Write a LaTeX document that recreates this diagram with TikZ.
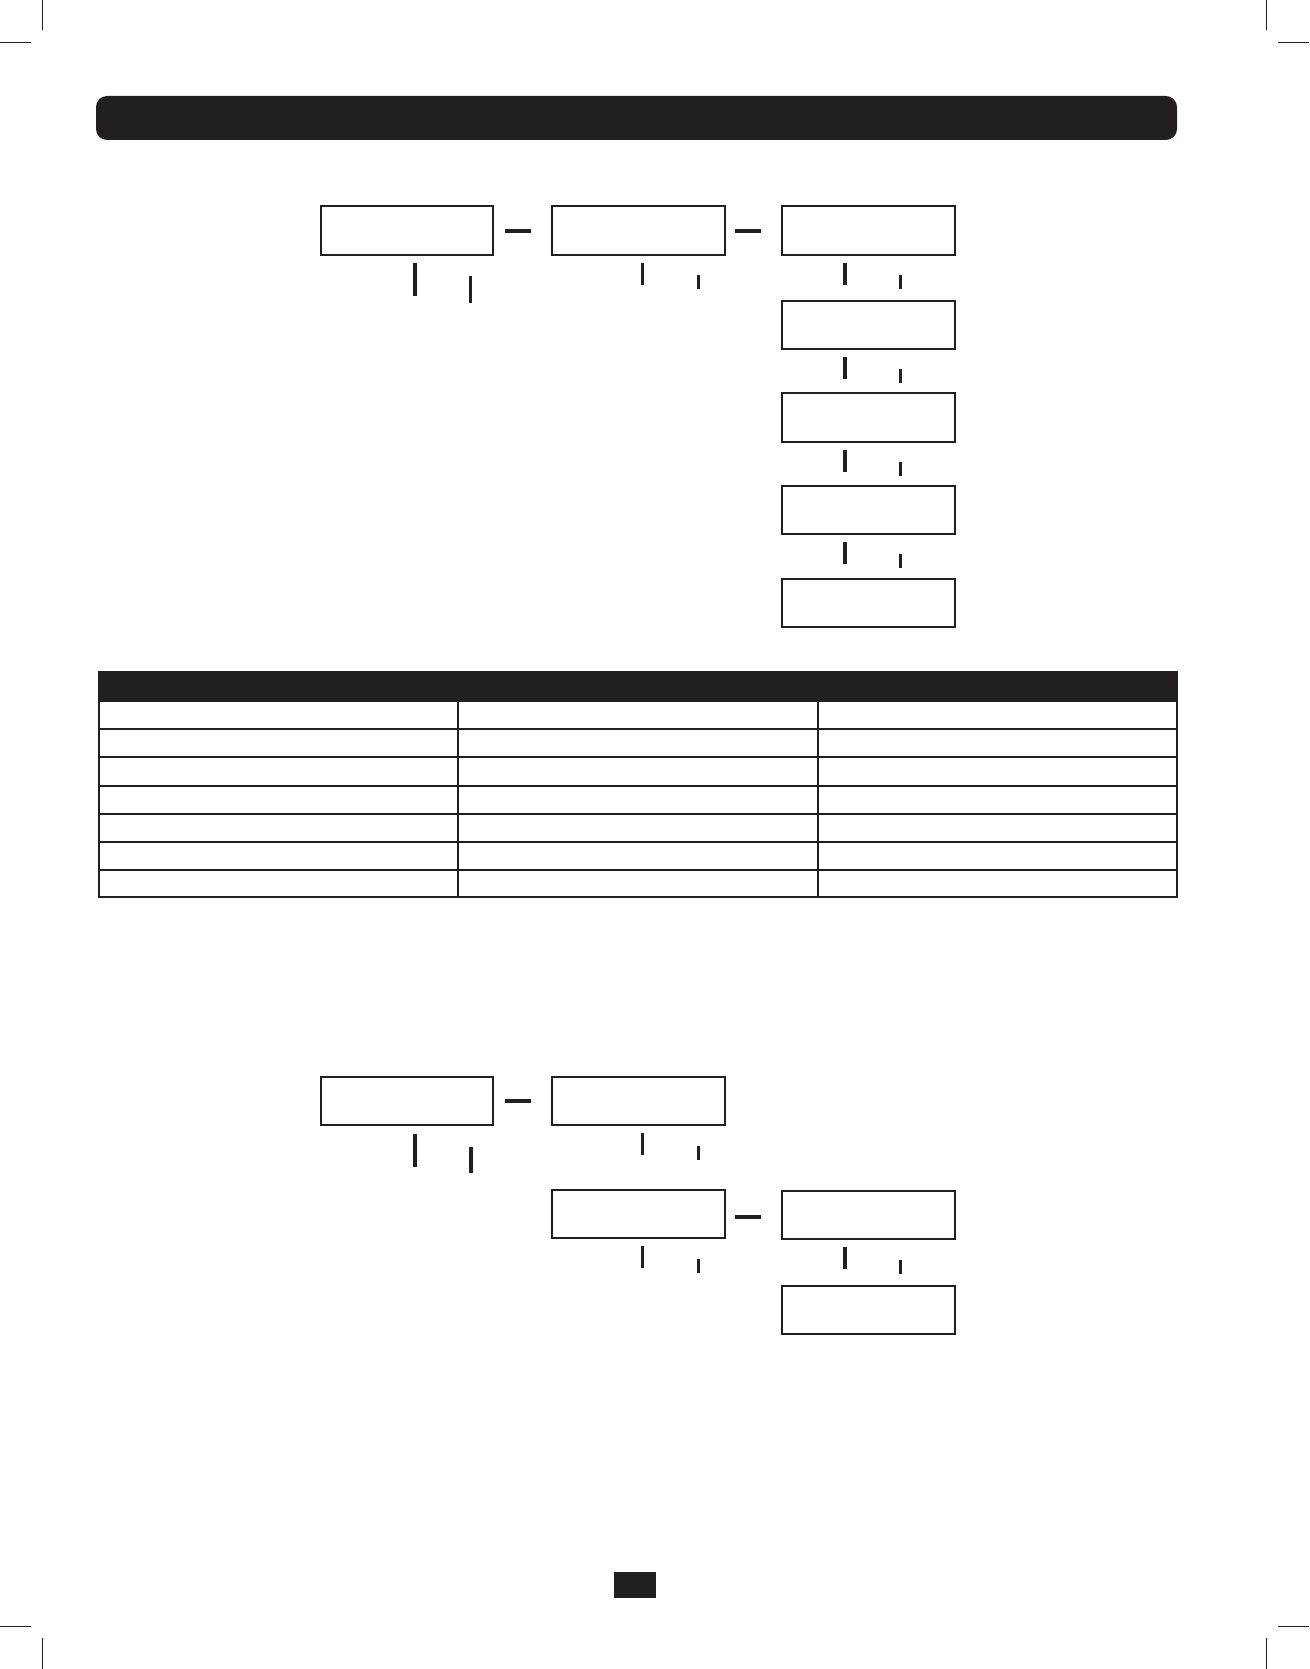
\documentclass[tikz,border=0pt]{standalone}
\begin{document}
\begin{tikzpicture}[x=1pt,y=-1pt,
  ink/.style={draw=inkc},
  flowbox/.style={draw=inkc,line width=2pt,minimum width=172.5pt,minimum height=48.5pt,inner sep=0pt,outer sep=0pt},
  tick/.style={draw=inkc,line width=3.6pt},
  link/.style={draw=inkc,line width=3.6pt},
  crop/.style={draw=inkc,line width=1pt},
  grid/.style={draw=inkc,line width=2pt}]
\definecolor{inkc}{HTML}{231F20}
\useasboundingbox (0,0) rectangle (1309,1669);
\fill[white] (0,0) rectangle (1309,1669);
% crop marks
\draw[crop] (42.5,0) -- (42.5,30);
\draw[crop] (0,42.7) -- (31,42.7);
\draw[crop] (1266,0) -- (1266,30);
\draw[crop] (1278,42.7) -- (1309,42.7);
\draw[crop] (0,1626.7) -- (31,1626.7);
\draw[crop] (1278,1626.7) -- (1309,1626.7);
\draw[crop] (42.5,1637.7) -- (42.5,1669);
\draw[crop] (1266,1637.7) -- (1266,1669);
% header bar
\fill[inkc,rounded corners=11pt] (96,96) rectangle (1177,140);
% ---------- top flow ----------
\node[flowbox] (a1) at (407,230.5) {};
\node[flowbox] (a2) at (638.3,230.5) {};
\node[flowbox] (a3) at (868.4,230.5) {};
\node[flowbox] (a4) at (868.4,325) {};
\node[flowbox] (a5) at (868.4,417.7) {};
\node[flowbox] (a6) at (868.4,510) {};
\node[flowbox] (a7) at (868.4,603) {};
\draw[link] (505,231) -- (531,231);
\draw[link] (735,231) -- (761,231);
% ticks
\draw[tick] (415,263) -- (415,296);
\draw[tick] (470.5,276) -- (470.5,303);
\draw[tick] (642.6,263) -- (642.6,285);
\draw[tick] (698.5,275) -- (698.5,289);
\foreach \b in {256,350,442.7,535}{
  \draw[tick] (844.7,\b+7) -- (844.7,\b+29);
  \draw[tick] (900.6,\b+19) -- (900.6,\b+33);
}
% ---------- table ----------
\fill[inkc] (98,671) rectangle (1177.5,701.7);
\draw[grid] (99,701) rectangle (1176.5,897.3);
\foreach \y in {729,757,785.5,813.7,842,870}{
  \draw[grid] (99,\y) -- (1176.5,\y);
}
\draw[grid] (458,701) -- (458,897.3);
\draw[grid] (817.7,701) -- (817.7,897.3);
% ---------- bottom flow ----------
\node[flowbox] (b1) at (407,1101) {};
\node[flowbox] (b2) at (638.3,1101) {};
\node[flowbox] (b3) at (638.3,1214) {};
\node[flowbox] (b4) at (868.4,1215) {};
\node[flowbox] (b5) at (868.4,1310) {};
\draw[link] (505,1100.7) -- (531,1100.7);
\draw[link] (735,1216.7) -- (761,1216.7);
\draw[tick] (415,1134) -- (415,1167);
\draw[tick] (471,1147) -- (471,1173);
\draw[tick] (642.6,1133) -- (642.6,1155);
\draw[tick] (698.5,1146) -- (698.5,1160);
\draw[tick] (642.6,1246) -- (642.6,1268);
\draw[tick] (698.5,1259) -- (698.5,1273);
\draw[tick] (844.7,1247) -- (844.7,1269);
\draw[tick] (900.6,1260) -- (900.6,1274);
% page number block
\fill[inkc] (614,1572) rectangle (656,1598);
\end{tikzpicture}
\end{document}
